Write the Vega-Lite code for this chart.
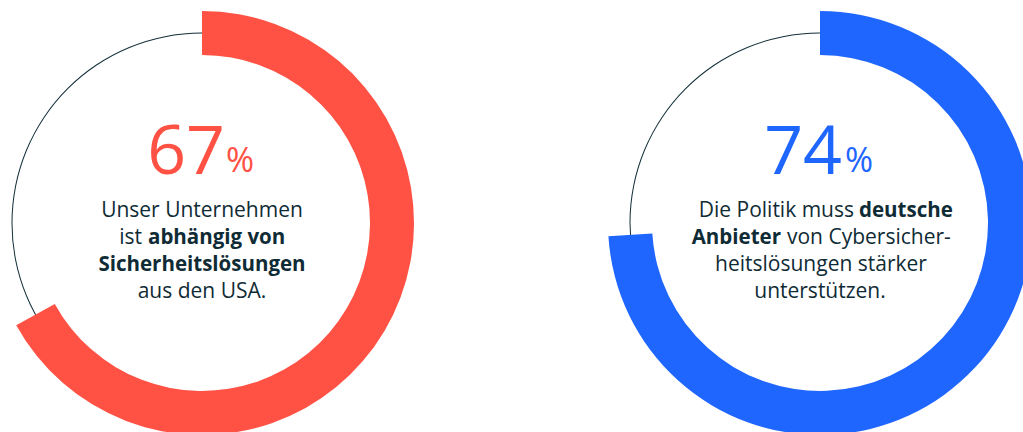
{
  "$schema": "https://vega.github.io/schema/vega-lite/v6.json",
  "padding": 0,
  "spacing": 194,
  "config": {"view": {"stroke": null}, "font": "Open Sans", "text": {"font": "Open Sans"}},
  "hconcat": [
    {
      "width": 404,
      "height": 446,
      "data": {"values": [{"wert": 67, "zahl": "67", "z1": "Unser Unternehmen", "z2a": "ist", "z2b": "abhängig von", "z3": "Sicherheitslösungen", "z4": "aus den USA."}]},
      "layer": [
        {"mark": {"type": "arc", "innerRadius": 189.5, "outerRadius": 190.5, "theta": 0, "theta2": 6.2832, "color": "#13303a"}, "encoding": {}},
        {"mark": {"type": "arc", "innerRadius": 168, "outerRadius": 212, "color": "#ff5244"},
         "encoding": {"theta": {"field": "wert", "type": "quantitative", "stack": null, "scale": {"domain": [0, 100], "range": [0, 6.2832]}}}},
        {"mark": {"type": "text", "align": "right", "baseline": "alphabetic", "dx": 23, "dy": -49, "fontSize": 68, "color": "#ff5244"}, "encoding": {"text": {"field": "zahl"}}},
        {"mark": {"type": "text", "align": "left", "baseline": "alphabetic", "dx": 24, "dy": -51, "fontSize": 34, "color": "#ff5244", "text": "%"}, "encoding": {}},
        {"mark": {"type": "text", "align": "center", "baseline": "alphabetic", "dx": 0, "dy": -6, "fontSize": 21, "color": "#0f2b35"}, "encoding": {"text": {"field": "z1"}}},
        {"mark": {"type": "text", "align": "right", "baseline": "alphabetic", "dx": -60, "dy": 21, "fontSize": 21, "color": "#0f2b35"}, "encoding": {"text": {"field": "z2a"}}},
        {"mark": {"type": "text", "align": "left", "baseline": "alphabetic", "dx": -54, "dy": 21, "fontSize": 20.5, "fontWeight": "bold", "color": "#0f2b35"}, "encoding": {"text": {"field": "z2b"}}},
        {"mark": {"type": "text", "align": "center", "baseline": "alphabetic", "dx": 0, "dy": 48, "fontSize": 20.5, "fontWeight": "bold", "color": "#0f2b35"}, "encoding": {"text": {"field": "z3"}}},
        {"mark": {"type": "text", "align": "center", "baseline": "alphabetic", "dx": 0, "dy": 75, "fontSize": 21, "color": "#0f2b35"}, "encoding": {"text": {"field": "z4"}}}
      ]
    },
    {
      "width": 404,
      "height": 446,
      "data": {"values": [{"wert": 74, "zahl": "74", "z1a": "Die Politik muss", "z1b": "deutsche", "z2a": "Anbieter", "z2b": "von Cybersicher-", "z3": "heitslösungen stärker", "z4": "unterstützen."}]},
      "layer": [
        {"mark": {"type": "arc", "innerRadius": 189.5, "outerRadius": 190.5, "theta": 0, "theta2": 6.2832, "color": "#13303a"}, "encoding": {}},
        {"mark": {"type": "arc", "innerRadius": 168, "outerRadius": 212, "color": "#1f66ff"},
         "encoding": {"theta": {"field": "wert", "type": "quantitative", "stack": null, "scale": {"domain": [0, 100], "range": [0, 6.2832]}}}},
        {"mark": {"type": "text", "align": "right", "baseline": "alphabetic", "dx": 22, "dy": -49, "fontSize": 68, "color": "#1f66ff"}, "encoding": {"text": {"field": "zahl"}}},
        {"mark": {"type": "text", "align": "left", "baseline": "alphabetic", "dx": 25, "dy": -51, "fontSize": 34, "color": "#1f66ff", "text": "%"}, "encoding": {}},
        {"mark": {"type": "text", "align": "right", "baseline": "alphabetic", "dx": 34, "dy": -6, "fontSize": 21, "color": "#0f2b35"}, "encoding": {"text": {"field": "z1a"}}},
        {"mark": {"type": "text", "align": "left", "baseline": "alphabetic", "dx": 39, "dy": -6, "fontSize": 20.5, "fontWeight": "bold", "color": "#0f2b35"}, "encoding": {"text": {"field": "z1b"}}},
        {"mark": {"type": "text", "align": "right", "baseline": "alphabetic", "dx": -39, "dy": 21, "fontSize": 20.5, "fontWeight": "bold", "color": "#0f2b35"}, "encoding": {"text": {"field": "z2a"}}},
        {"mark": {"type": "text", "align": "left", "baseline": "alphabetic", "dx": -33, "dy": 21, "fontSize": 21, "color": "#0f2b35"}, "encoding": {"text": {"field": "z2b"}}},
        {"mark": {"type": "text", "align": "center", "baseline": "alphabetic", "dx": 1, "dy": 48, "fontSize": 21, "color": "#0f2b35"}, "encoding": {"text": {"field": "z3"}}},
        {"mark": {"type": "text", "align": "center", "baseline": "alphabetic", "dx": 0, "dy": 75, "fontSize": 21, "color": "#0f2b35"}, "encoding": {"text": {"field": "z4"}}}
      ]
    }
  ]
}
